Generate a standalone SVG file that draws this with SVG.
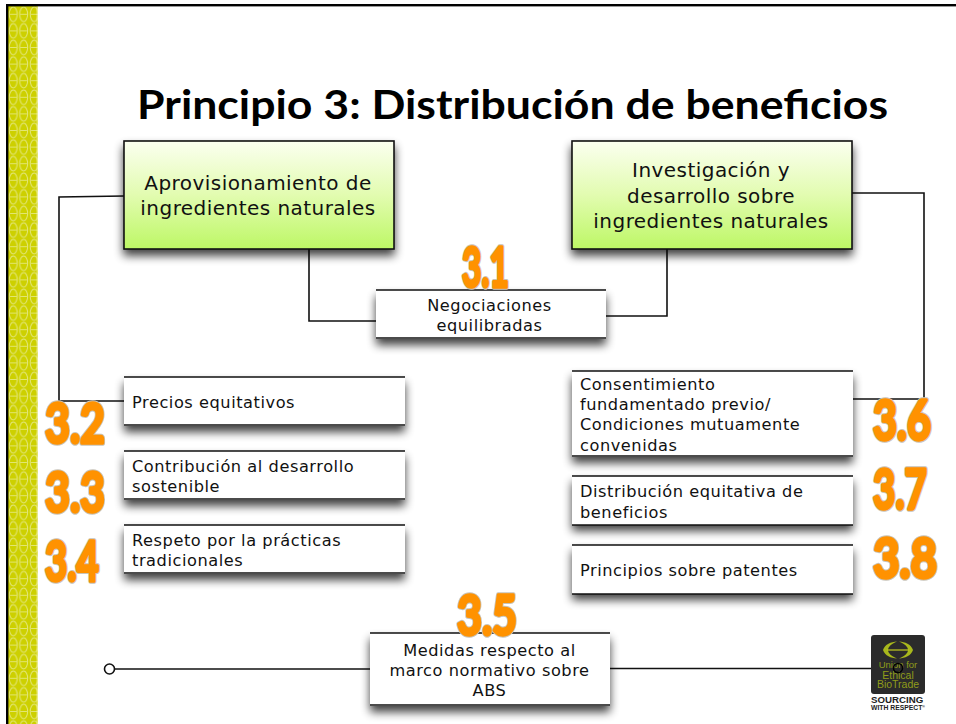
<svg xmlns="http://www.w3.org/2000/svg" width="956" height="724" viewBox="0 0 956 724">
<style>
.t{font-family:"DejaVu Sans",Verdana,sans-serif;font-size:16.2px;letter-spacing:.55px;fill:#111}
.m{text-anchor:middle}
.b{font-size:20px;letter-spacing:.45px}
.edge{fill:none;stroke:#111;stroke-width:1.6}
.n{font-family:"Lato","Noto Sans",sans-serif;font-weight:700;font-size:55px;fill:#ff9200;stroke:#ff9200;stroke-width:3.500;stroke-linejoin:round}
.no{font-family:"Lato","Noto Sans",sans-serif;font-weight:700;font-size:55px;fill:none;stroke:#c8c4ba;stroke-width:5.500;stroke-linejoin:round}
</style>
<defs>
<pattern id="p" x="8" y="6" width="10.5" height="16.6" patternUnits="userSpaceOnUse">
<rect width="10.5" height="16.6" fill="#cdd000"/>
<ellipse cx="5.2" cy="8.300" rx="4" ry="7.300" fill="none" stroke="#e4e77c" stroke-width="1"/>
<path d="M2 8.300H8.500" stroke="#e4e77c" stroke-width="0.900" fill="none"/>
</pattern>
<linearGradient id="g" x1="0" y1="0" x2="0" y2="1"><stop offset="0" stop-color="#fbfff0"/><stop offset="0.5" stop-color="#e2fcb0"/><stop offset="1" stop-color="#bdf765"/></linearGradient>
<filter id="s" x="-10%" y="-25%" width="120%" height="160%"><feGaussianBlur in="SourceAlpha" stdDeviation="5"/><feOffset dy="6"/><feComponentTransfer><feFuncA type="linear" slope="0.75"/></feComponentTransfer><feMerge><feMergeNode/><feMergeNode in="SourceGraphic"/></feMerge></filter>
</defs>
<rect width="956" height="724" fill="#fff"/>
<rect x="8" y="6" width="30" height="718" fill="url(#p)"/>
<rect x="36.500" y="6" width="1.500" height="718" fill="#fff" opacity=".4"/>
<rect x="6" y="4" width="950" height="2.400" fill="#000"/>
<rect x="6" y="4" width="2.400" height="720" fill="#000"/>
<text x="137" y="119" font-family="Lato, Open Sans, sans-serif" font-weight="700" font-size="40" fill="#000" textLength="751" lengthAdjust="spacingAndGlyphs">Principio 3: Distribución de beneficios</text>

<g id="connectors">
<path class="edge" d="M124 196L59 197V401H124"/>
<path class="edge" d="M852 193H924V399H852"/>
<path class="edge" d="M309 249V321H376"/>
<path class="edge" d="M667 249V316H606"/>
<path class="edge" d="M115 669H370"/>
<path class="edge" d="M610 668.500H894"/>
<circle cx="109.500" cy="669" r="5" fill="#fff" stroke="#111" stroke-width="1.600"/>
</g>

<g id="n-aprov"><rect x="124" y="141" width="270" height="108" fill="url(#g)" stroke="#111" stroke-width="1.600" filter="url(#s)"/><text class="t b m" x="258" y="190">Aprovisionamiento de</text><text class="t b m" x="258" y="215">ingredientes naturales</text></g>
<g id="n-invest"><rect x="572" y="141" width="280" height="108" fill="url(#g)" stroke="#111" stroke-width="1.600" filter="url(#s)"/><text class="t b m" x="711" y="177">Investigación y</text><text class="t b m" x="711" y="203">desarrollo sobre</text><text class="t b m" x="711" y="228">ingredientes naturales</text></g>

<g id="n-31"><path d="M376 290H606V339H376Z" fill="#fff" filter="url(#s)"/><path class="edge" d="M376 290H606M376 338H606"/><text class="t m" x="489.500" y="311">Negociaciones</text><text class="t m" x="489.500" y="331">equilibradas</text></g>
<g id="n-32"><path d="M124 377H405V426H124Z" fill="#fff" filter="url(#s)"/><path class="edge" d="M124 377H405M124 425H405"/><text class="t" x="132" y="408">Precios equitativos</text></g>
<g id="n-33"><path d="M124 451H405V500H124Z" fill="#fff" filter="url(#s)"/><path class="edge" d="M124 451H405M124 499H405"/><text class="t" x="132" y="472">Contribución al desarrollo</text><text class="t" x="132" y="492">sostenible</text></g>
<g id="n-34"><path d="M124 525H405V574H124Z" fill="#fff" filter="url(#s)"/><path class="edge" d="M124 525H405M124 573H405"/><text class="t" x="132" y="546">Respeto por la prácticas</text><text class="t" x="132" y="566">tradicionales</text></g>
<g id="n-36"><path d="M572 371H853V457H572Z" fill="#fff" filter="url(#s)"/><path class="edge" d="M572 371H853M572 456H853"/><text class="t" x="580" y="390">Consentimiento</text><text class="t" x="580" y="410">fundamentado previo/</text><text class="t" x="580" y="430">Condiciones mutuamente</text><text class="t" x="580" y="451">convenidas</text></g>
<g id="n-37"><path d="M572 476H853V525H572Z" fill="#fff" filter="url(#s)"/><path class="edge" d="M572 476H853M572 525H853"/><text class="t" x="580" y="497">Distribución equitativa de</text><text class="t" x="580" y="518">beneficios</text></g>
<g id="n-38"><path d="M572 545H853V594H572Z" fill="#fff" filter="url(#s)"/><path class="edge" d="M572 545H853M572 594H853"/><text class="t" x="580" y="576">Principios sobre patentes</text></g>
<g id="n-35"><path d="M370 633H610V706H370Z" fill="#fff" filter="url(#s)"/><path class="edge" d="M370 633H610M370 705H610"/><text class="t m" x="489.500" y="656">Medidas respecto al</text><text class="t m" x="489.500" y="676">marco normativo sobre</text><text class="t m" x="489.500" y="696">ABS</text></g>

<g id="numbers">
<text class="no" x="462" y="287" textLength="47" lengthAdjust="spacingAndGlyphs">3.1</text><text class="n" x="462" y="287" textLength="47" lengthAdjust="spacingAndGlyphs">3.1</text>
<text class="no" x="45" y="443" textLength="60" lengthAdjust="spacingAndGlyphs">3.2</text><text class="n" x="45" y="443" textLength="60" lengthAdjust="spacingAndGlyphs">3.2</text>
<text class="no" x="45" y="512" textLength="60" lengthAdjust="spacingAndGlyphs">3.3</text><text class="n" x="45" y="512" textLength="60" lengthAdjust="spacingAndGlyphs">3.3</text>
<text class="no" x="45" y="581" textLength="54" lengthAdjust="spacingAndGlyphs">3.4</text><text class="n" x="45" y="581" textLength="54" lengthAdjust="spacingAndGlyphs">3.4</text>
<text class="no" x="457" y="635" textLength="60" lengthAdjust="spacingAndGlyphs">3.5</text><text class="n" x="457" y="635" textLength="60" lengthAdjust="spacingAndGlyphs">3.5</text>
<text class="no" x="873" y="440" textLength="58" lengthAdjust="spacingAndGlyphs">3.6</text><text class="n" x="873" y="440" textLength="58" lengthAdjust="spacingAndGlyphs">3.6</text>
<text class="no" x="873" y="509" textLength="54" lengthAdjust="spacingAndGlyphs">3.7</text><text class="n" x="873" y="509" textLength="54" lengthAdjust="spacingAndGlyphs">3.7</text>
<text class="no" x="873" y="578" textLength="64" lengthAdjust="spacingAndGlyphs">3.8</text><text class="n" x="873" y="578" textLength="64" lengthAdjust="spacingAndGlyphs">3.8</text>
</g>

<g id="logo">
<rect x="871" y="635" width="54" height="59" rx="3" fill="#2b2b2b"/>
<path d="M883 650C885 644 891 642 897 641.500C891 644 888 647 888 650ZM913 650C911 644 905 642 899 641.500C905 644 908 647 908 650ZM883 650C885 656 891 658 897 658.500C891 656 888 653 888 650ZM913 650C911 656 905 658 899 658.500C905 656 908 653 908 650Z" fill="#a8b81c"/>
<path d="M887 650H909" stroke="#b5c020" stroke-width="1.300"/>
<g font-family="Liberation Sans,sans-serif" fill="#8f9c1a" text-anchor="middle"><text x="898" y="668" font-size="9.500">Union for</text><text x="898" y="678.500" font-size="10.500">Ethical</text><text x="898" y="688" font-size="10.500">BioTrade</text></g>
<circle cx="898" cy="668" r="4.500" fill="none" stroke="#000" stroke-width="1.500"/>
<g font-family="Liberation Sans,sans-serif" font-weight="700" fill="#222"><text x="871" y="703" font-size="9.700">SOURCING</text><text x="871" y="709.500" font-size="6.800">WITH RESPECT<tspan font-size="3.500" dy="-2">®</tspan></text></g>
</g>
</svg>
